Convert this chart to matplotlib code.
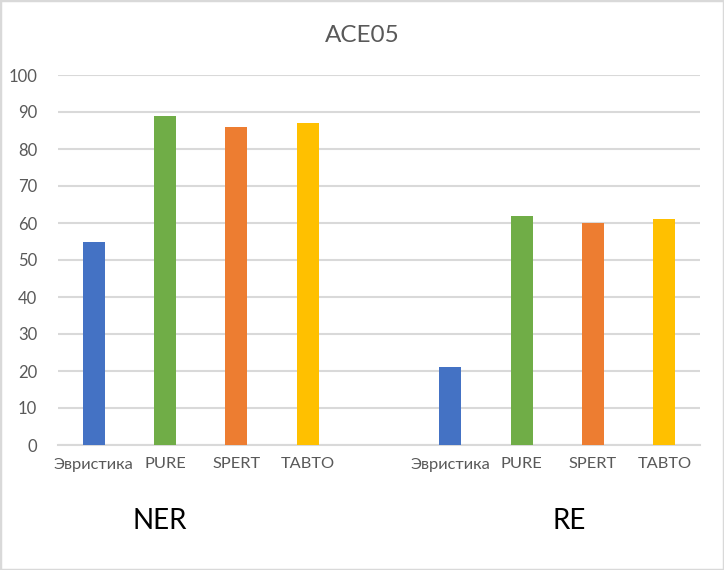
import matplotlib
matplotlib.use("Agg")
import matplotlib.pyplot as plt
from matplotlib.patches import Rectangle

plt.rcParams['font.family'] = ['Lato', 'DejaVu Sans']

title = "ACE05"
methods = ["Эвристика", "PURE", "SPERT", "TABTO"]
colors = ["#4472C4", "#70AD47", "#ED7D31", "#FFC000"]
groups = ["NER", "RE"]
ner_values = [55, 89, 86, 87]
re_values = [21, 62, 60, 61]
yticks = [0, 10, 20, 30, 40, 50, 60, 70, 80, 90, 100]

W, H = 724, 570
fig = plt.figure(figsize=(W / 100, H / 100), dpi=100)
fig.patches.append(Rectangle((0, 0), 1, 1, transform=fig.transFigure,
                             fill=False, edgecolor="#d9d9d9", linewidth=2.5))

ax = fig.add_axes([58 / W, 1 - 445 / H, (700 - 58) / W, (445 - 75) / H])

positions = list(range(len(methods))) + [len(methods) + 1 + i for i in range(len(methods))]
values = ner_values + re_values
bar_colors = colors + colors
ax.bar(positions, values, width=0.31, color=bar_colors, zorder=3)

ax.set_xlim(-0.5, 2 * len(methods) + 0.5)
ax.set_ylim(0, 100)
ax.set_yticks(yticks)
ax.set_yticklabels([str(v) for v in yticks], fontsize=12, color="#595959")
ax.set_xticks(positions)
ax.set_xticklabels(methods + methods, fontsize=11.8, color="#595959")
ax.tick_params(axis="both", length=0)
ax.tick_params(axis="y", pad=15)
ax.tick_params(axis="x", pad=9)

ax.grid(axis="y", color="#d9d9d9", linewidth=1.5, zorder=0)
for s in ["top", "right", "left"]:
    ax.spines[s].set_visible(False)
ax.spines["bottom"].set_color("#d9d9d9")
ax.spines["bottom"].set_linewidth(1.5)

fig.text(362 / W, 1 - 36 / H, title, ha="center", va="center", fontsize=17.5, color="#595959")

# group labels
grp_x = [160, 569]
for g, gx in zip(groups, grp_x):
    fig.text(gx / W, 1 - 521 / H, g, ha="center", va="center", fontsize=20, color="black")

fig.savefig("out.png", dpi=100)
